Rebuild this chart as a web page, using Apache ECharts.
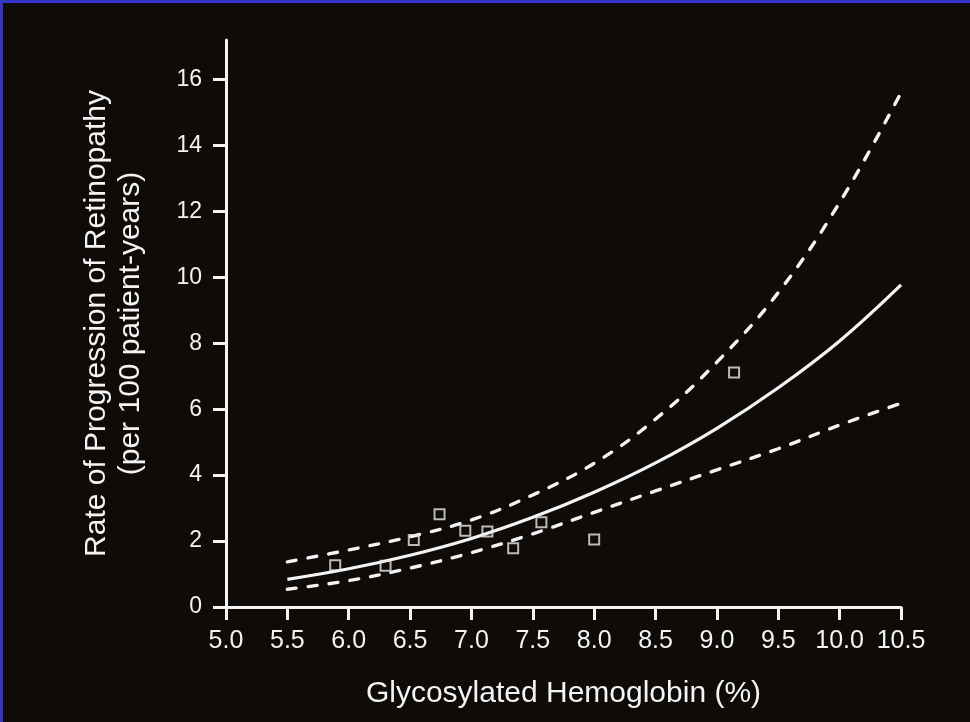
<!DOCTYPE html>
<html>
<head>
<meta charset="utf-8">
<script src="https://cdn.jsdelivr.net/npm/echarts@6/dist/echarts.min.js"></script>
<style>
  html, body { margin: 0; padding: 0; background: #0e0b09; }
  #wrap { position: relative; width: 970px; height: 722px; overflow: hidden; }
  #chart { position: absolute; left: 0; top: 0; width: 970px; height: 722px; }
  .bt { position: absolute; left: 0; top: 0; width: 970px; height: 3px; background: #3434c8; }
  .bl { position: absolute; left: 0; top: 0; width: 3px; height: 722px; background: #3434c8; }
</style>
</head>
<body>
<div id="wrap">
  <div id="chart"></div>
  <div class="bt"></div>
  <div class="bl"></div>
</div>
<script>
// Glycosylated hemoglobin (%) positions at which the curves were read
const hba1c = [5.5, 6.0, 6.5, 7.0, 7.5, 8.0, 8.5, 9.0, 9.5, 10.0, 10.5];
// Fitted rate of progression (per 100 patient-years)
const fitted = [0.84, 1.16, 1.57, 2.08, 2.72, 3.48, 4.37, 5.42, 6.65, 8.07, 9.77];
// Upper confidence bound
const upper = [1.37, 1.73, 2.13, 2.64, 3.40, 4.36, 5.70, 7.43, 9.54, 12.27, 15.6];
// Lower confidence bound
const lower = [0.54, 0.80, 1.18, 1.65, 2.22, 2.87, 3.52, 4.16, 4.80, 5.52, 6.18];
// Observed group rates
const obsX = [5.89, 6.30, 6.53, 6.74, 6.95, 7.13, 7.34, 7.57, 8.00, 9.14];
const obsY = [1.27, 1.25, 2.03, 2.81, 2.31, 2.29, 1.78, 2.57, 2.05, 7.11];
// Axis ticks
const xTicks = [5.0, 5.5, 6.0, 6.5, 7.0, 7.5, 8.0, 8.5, 9.0, 9.5, 10.0, 10.5];
const yTicks = [0, 2, 4, 6, 8, 10, 12, 14, 16];

const fg = '#f4f4f4';
const bg = '#0e0b09';
const font = '"Liberation Sans", Arial, Helvetica, sans-serif';

const pair = (xs, ys) => xs.map((x, i) => [x, ys[i]]);

const chart = echarts.init(document.getElementById('chart'), null, { renderer: 'canvas' });
chart.setOption({
  backgroundColor: bg,
  animation: false,
  grid: { left: 226, right: 69, top: 40, bottom: 115, containLabel: false },
  xAxis: {
    type: 'value',
    min: 5.0, max: 10.5, interval: 0.5,
    name: 'Glycosylated Hemoglobin (%)',
    nameLocation: 'middle',
    nameGap: 72,
    nameTextStyle: { color: fg, fontSize: 30, fontFamily: font },
    axisLine: { show: true, onZero: false, lineStyle: { color: fg, width: 3 } },
    axisTick: { show: true, inside: false, length: 13, lineStyle: { color: fg, width: 3 } },
    axisLabel: { color: fg, fontSize: 25, fontFamily: font, margin: 22,
                 customValues: xTicks, formatter: v => v.toFixed(1) },
    splitLine: { show: false }
  },
  yAxis: {
    type: 'value',
    min: 0, max: 17.2, interval: 2,
    name: 'Rate of Progression of Retinopathy\n(per 100 patient-years)',
    nameLocation: 'middle',
    nameRotate: 90,
    nameGap: 78,
    nameTextStyle: { color: fg, fontSize: 30, fontFamily: font, lineHeight: 34, align: 'center' },
    axisLine: { show: true, onZero: false, lineStyle: { color: fg, width: 3 } },
    axisTick: { show: true, inside: false, length: 13, customValues: yTicks, lineStyle: { color: fg, width: 3 } },
    axisLabel: { color: fg, fontSize: 23, fontFamily: font, margin: 24, customValues: yTicks },
    splitLine: { show: false }
  },
  series: [
    {
      type: 'line', data: pair(hba1c, upper), smooth: 0.4, showSymbol: false,
      lineStyle: { color: fg, width: 3.4, type: [9, 12], cap: 'round' }, z: 2
    },
    {
      type: 'line', data: pair(hba1c, fitted), smooth: 0.4, showSymbol: false,
      lineStyle: { color: fg, width: 3.2 }, z: 2
    },
    {
      type: 'line', data: pair(hba1c, lower), smooth: 0.4, showSymbol: false,
      lineStyle: { color: fg, width: 3.4, type: [9, 12], cap: 'round' }, z: 2
    },
    {
      type: 'scatter', data: pair(obsX, obsY), symbol: 'rect', symbolSize: 10,
      itemStyle: { color: 'rgba(0,0,0,0)', borderColor: '#e6e6e6', borderWidth: 2 }, z: 3
    }
  ]
});
</script>
</body>
</html>
